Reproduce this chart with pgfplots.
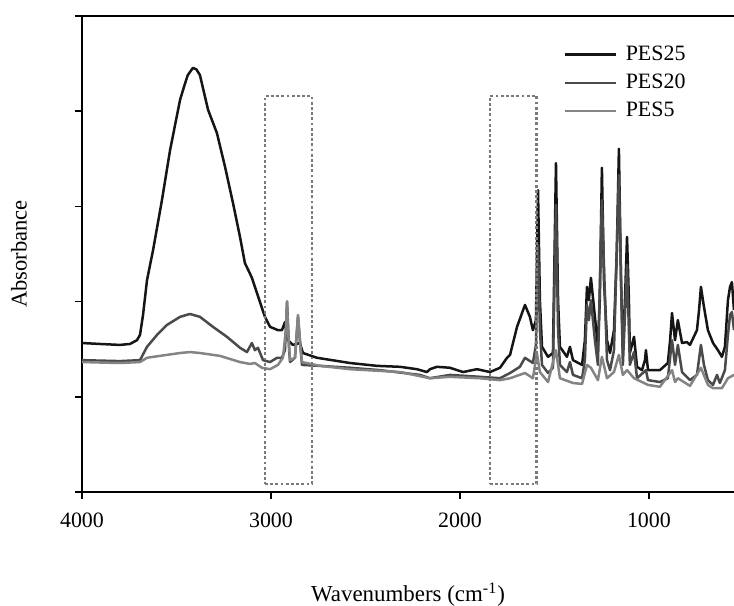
\documentclass[border=0pt]{standalone}
\usepackage{fontspec}
\setmainfont{Liberation Serif}
\usepackage{pgfplots}
\pgfplotsset{compat=1.18}
\definecolor{cA}{HTML}{151515}
\definecolor{cB}{HTML}{4A4A4A}
\definecolor{cC}{HTML}{848484}
\definecolor{cBox}{HTML}{7A7A7A}
\newcommand{\chartfont}{\fontsize{11}{13}\selectfont}

\begin{document}
\chartfont
\begin{tikzpicture}
\useasboundingbox (-41bp,-57bp) rectangle (326bp,246bp);
\begin{axis}[
    scale only axis,
    width=326bp, height=238bp,
    x dir=reverse,
    xmin=550, xmax=4000, ymin=0, ymax=1,
    enlargelimits=false,
    axis x line*=bottom, axis y line*=left,
    axis line style={-, line width=0.75bp},
    tick style={line width=0.75bp, black},
    tick align=outside, major tick length=3.5bp,
    xtick={1000,2000,3000,4000},
    xticklabels={1000,2000,3000,4000},
    xticklabel style={font=\chartfont, yshift=-3bp},
    ytick={0,0.2,0.4,0.6,0.8,1},
    yticklabels={},
    xlabel={Wavenumbers (cm\textsuperscript{-1})},
    ylabel={Absorbance},
    xlabel style={font=\fontsize{11.5}{13}\selectfont, at={(axis description cs:0.5,-0.231)}, anchor=base},
    ylabel style={font=\fontsize{11.3}{13}\selectfont, at={(axis description cs:-0.085,0.5)}, anchor=base},
    legend style={draw=none, fill=none, font=\chartfont, at={(axis description cs:0.729,0.955)}, anchor=north west,
      row sep=1.2bp, column sep=2.3bp, nodes={inner sep=2bp}},
    legend cell align=left,
    legend image code/.code={\draw[#1] (0cm,0cm) -- (0.9cm,0cm);},
    every axis plot/.append style={line width=1.25bp, line join=round},
]
\addplot[cA] coordinates {
(4000,0.313) (3905,0.311) (3800,0.309) (3746,0.311) (3709,0.319) (3693,0.330)
(3677,0.372) (3656,0.445) (3624,0.508) (3577,0.613) (3534,0.718) (3481,0.824)
(3455,0.858) (3440,0.876) (3413,0.891) (3395,0.888) (3376,0.876) (3333,0.803)
(3286,0.754) (3243,0.683) (3201,0.607) (3164,0.536) (3138,0.481) (3115,0.462)
(3101,0.450) (3074,0.418) (3048,0.387) (3032,0.368) (3005,0.347) (2963,0.340)
(2942,0.340) (2926,0.357) (2910,0.319) (2884,0.309) (2847,0.313) (2831,0.292)
(2757,0.282) (2582,0.271) (2439,0.265) (2317,0.263) (2228,0.258) (2175,0.252)
(2159,0.258) (2122,0.263) (2053,0.261) (1984,0.252) (1910,0.258) (1841,0.252)
(1788,0.261) (1751,0.282) (1735,0.288) (1698,0.347) (1656,0.393) (1630,0.368)
(1614,0.340) (1598,0.361) (1587,0.634) (1577,0.403) (1566,0.305) (1534,0.284)
(1508,0.292) (1492,0.691) (1481,0.403) (1471,0.305) (1434,0.284) (1418,0.305)
(1402,0.277) (1354,0.267) (1339,0.319) (1328,0.431) (1318,0.403) (1307,0.450)
(1286,0.368) (1270,0.305) (1260,0.403) (1249,0.681) (1238,0.445) (1222,0.319)
(1206,0.292) (1185,0.340) (1170,0.508) (1159,0.721) (1148,0.445) (1138,0.292)
(1127,0.403) (1116,0.536) (1106,0.403) (1101,0.292) (1079,0.326) (1063,0.263)
(1037,0.256) (1021,0.277) (1016,0.298) (1005,0.256) (942,0.256) (900,0.271)
(888,0.319) (878,0.376) (862,0.319) (847,0.361) (825,0.313) (799,0.315)
(783,0.309) (746,0.340) (735,0.382) (725,0.431) (709,0.389) (688,0.340)
(661,0.313) (635,0.298) (614,0.284) (598,0.305) (582,0.403) (571,0.431)
(561,0.441) (550,0.382)
};
\addlegendentry{PES25}
\addplot[cB] coordinates {
(4000,0.277) (3800,0.275) (3693,0.277) (3656,0.305) (3603,0.330) (3550,0.351)
(3481,0.368) (3429,0.374) (3376,0.368) (3307,0.347) (3233,0.326) (3164,0.303)
(3127,0.294) (3101,0.313) (3085,0.298) (3069,0.303) (3042,0.277) (3005,0.273)
(2968,0.282) (2942,0.282) (2926,0.298) (2915,0.399) (2904,0.298) (2899,0.273)
(2873,0.282) (2857,0.368) (2847,0.319) (2836,0.267) (2741,0.265) (2582,0.261)
(2423,0.256) (2212,0.246) (2159,0.239) (2053,0.246) (1894,0.242) (1788,0.239)
(1735,0.250) (1683,0.263) (1656,0.282) (1614,0.271) (1598,0.309) (1587,0.519)
(1577,0.340) (1566,0.267) (1534,0.250) (1508,0.261) (1492,0.603) (1481,0.340)
(1471,0.267) (1434,0.252) (1418,0.273) (1402,0.246) (1354,0.239) (1339,0.277)
(1328,0.393) (1318,0.361) (1307,0.403) (1286,0.319) (1270,0.267) (1249,0.613)
(1222,0.277) (1206,0.256) (1185,0.298) (1159,0.666) (1138,0.267) (1116,0.477)
(1101,0.267) (1079,0.294) (1063,0.239) (1016,0.256) (1005,0.235) (942,0.231)
(900,0.239) (878,0.319) (862,0.267) (847,0.309) (825,0.252) (783,0.235)
(746,0.246) (725,0.309) (709,0.267) (688,0.235) (661,0.225) (640,0.246)
(625,0.229) (598,0.256) (582,0.330) (571,0.372) (561,0.378) (550,0.340)
};
\addlegendentry{PES20}
\addplot[cC] coordinates {
(4000,0.273) (3800,0.271) (3693,0.273) (3656,0.282) (3587,0.286) (3481,0.292)
(3429,0.294) (3376,0.292) (3270,0.286) (3164,0.273) (3111,0.269) (3085,0.271)
(3048,0.261) (3005,0.258) (2963,0.267) (2937,0.282) (2921,0.340) (2915,0.401)
(2910,0.340) (2899,0.277) (2873,0.282) (2857,0.372) (2847,0.319) (2836,0.273)
(2741,0.265) (2582,0.258) (2317,0.252) (2159,0.239) (2053,0.242) (1894,0.239)
(1788,0.235) (1735,0.239) (1656,0.250) (1614,0.239) (1593,0.292) (1577,0.252)
(1534,0.231) (1492,0.298) (1471,0.239) (1402,0.229) (1354,0.227) (1328,0.267)
(1307,0.261) (1270,0.235) (1249,0.284) (1222,0.239) (1185,0.252) (1159,0.288)
(1138,0.246) (1116,0.256) (1079,0.239) (1005,0.225) (942,0.221) (878,0.256)
(862,0.231) (847,0.239) (783,0.223) (725,0.261) (688,0.225) (661,0.218)
(614,0.218) (582,0.239) (550,0.246)
};
\addlegendentry{PES5}
\addplot[cBox, forget plot, line width=1.4bp, dash pattern=on 1.4bp off 1.2bp, line join=miter]
  coordinates {(3032,0.017) (2783,0.017) (2783,0.832) (3032,0.832) (3032,0.017)};
\addplot[cBox, forget plot, line width=1.4bp, dash pattern=on 1.4bp off 1.2bp, line join=miter]
  coordinates {(1841,0.017) (1593,0.017) (1593,0.832) (1841,0.832) (1841,0.017)};
\draw[line width=0.75bp] (rel axis cs:0,1) -- (rel axis cs:1,1);
\end{axis}
\end{tikzpicture}
\end{document}
